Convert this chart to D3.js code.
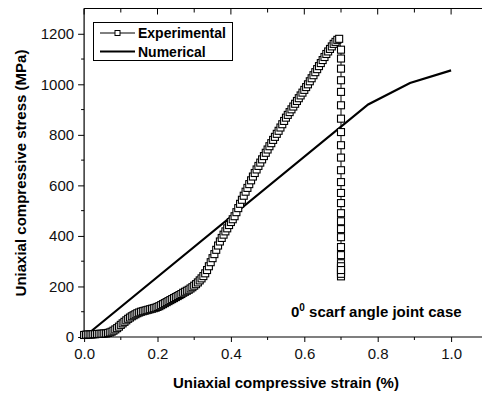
<!DOCTYPE html>
<html><head><meta charset="utf-8">
<script src="https://cdn.jsdelivr.net/npm/d3@7"></script>
<style>html,body{margin:0;padding:0;background:#fff;}svg{display:block;font-family:Arial,"Liberation Sans",sans-serif;}</style>
</head><body><svg id="c" width="482" height="396"></svg>
<script>
// Experimental: rising part (strain %, stress MPa)
const expStrain = [
 0.000,0.005,0.010,0.015,0.020,0.025,0.030,0.035,0.040,0.045,0.050,0.055,0.060,0.065,0.070,0.075,0.080,0.085,0.090,0.095,
 0.100,0.105,0.110,0.115,0.120,0.125,0.130,0.135,0.140,0.145,0.150,0.155,0.160,0.165,0.170,0.175,0.180,0.185,0.190,0.195,
 0.200,0.205,0.210,0.215,0.220,0.225,0.230,0.235,0.240,0.245,0.250,0.255,0.260,0.265,0.270,0.275,0.280,0.285,0.290,0.295,
 0.300,0.305,0.310,0.315,0.320,0.325,0.330,0.335,0.340,0.345,0.350,0.355,0.360,0.365,0.370,0.375,0.380,0.385,0.390,0.395,
 0.400,0.405,0.410,0.415,0.420,0.425,0.430,0.435,0.440,0.445,0.450,0.455,0.460,0.465,0.470,0.475,0.480,0.485,0.490,0.495,
 0.500,0.505,0.510,0.515,0.520,0.525,0.530,0.535,0.540,0.545,0.550,0.555,0.560,0.565,0.570,0.575,0.580,0.585,0.590,0.595,
 0.600,0.605,0.610,0.615,0.620,0.625,0.630,0.635,0.640,0.645,0.650,0.655,0.660,0.665,0.670,0.675,0.680,0.685,0.690,0.695];
const expStress = [
 8,9,10,10,10,11,11,12,12,13,13,14,14,16,18,21,25,30,35,41,
 48,54,60,66,72,77,82,86,90,94,97,100,102,104,106,108,110,112,114,116,
 119,122,126,130,134,138,142,146,150,154,158,162,166,170,175,179,183,187,192,197,
 203,209,216,224,232,241,252,265,280,296,312,328,345,362,378,392,405,418,430,443,
 455,466,478,494,510,527,543,559,575,590,605,620,635,649,663,677,690,703,716,729,
 742,755,767,780,792,804,816,829,842,855,868,879,890,901,912,923,934,945,956,967,
 978,989,1000,1012,1024,1036,1048,1060,1072,1084,1096,1108,1120,1130,1140,1150,1160,1168,1176,1180];
// Experimental: failure drop at constant strain
const dropStrain = 0.70;
const dropStress = [1137,1102,1062,1016,970,917,864,811,759,710,660,613,570,530,490,458,427,395,356,324,292,273,257,240,250,280,265];
// Numerical
const numStrain = [0.0,0.774,0.888,1.0];
const numStress = [0,920,1005,1055];
// Ticks
const xTicks = [0.0,0.2,0.4,0.6,0.8,1.0];
const xMinorTicks = [0.1,0.3,0.5,0.7,0.9];
const yTicks = [0,200,400,600,800,1000,1200];
const yMinorTicks = [100,300,500,700,900,1100];

const svg = d3.select("#c");
const x = d3.scaleLinear().domain([0,1]).range([84.1,451.1]);
const y = d3.scaleLinear().domain([0,1300]).range([337,8.5]);
const xMax = 1.09;

const expPts = expStrain.map((s,i)=>[s,expStress[i]]).concat(dropStress.map(v=>[dropStrain,v]));
const numPts = numStrain.map((s,i)=>[s,numStress[i]]);

const g = svg.append("g");
const right = x(xMax);
g.append("line").attr("x1",x(0)).attr("x2",right).attr("y1",y(0)).attr("y2",y(0)).attr("stroke","#000").attr("stroke-width",1.2);
g.append("line").attr("x1",x(0)).attr("x2",right).attr("y1",y(1300)).attr("y2",y(1300)).attr("stroke","#000").attr("stroke-width",1.2);
g.append("line").attr("x1",x(0)).attr("x2",x(0)).attr("y1",y(0)).attr("y2",y(1300)).attr("stroke","#000").attr("stroke-width",1.2);

const xAxis = d3.axisBottom(x).tickValues(xTicks).tickFormat(d3.format(".1f")).tickSize(5).tickPadding(6);
const xa = g.append("g").attr("transform",`translate(0,${y(0)})`).call(xAxis);
xa.select(".domain").remove();
xa.selectAll("text").attr("font-size",15).attr("font-family","Arial, Liberation Sans, sans-serif").attr("fill","#111");
g.selectAll(".xm").data(xMinorTicks).enter().append("line").attr("x1",d=>x(d)).attr("x2",d=>x(d)).attr("y1",y(0)).attr("y2",y(0)+3).attr("stroke","#000");
g.selectAll(".xt").data(xTicks).enter().append("line").attr("x1",d=>x(d)).attr("x2",d=>x(d)).attr("y1",y(1300)).attr("y2",y(1300)+6).attr("stroke","#000");
g.selectAll(".xtm").data(xMinorTicks).enter().append("line").attr("x1",d=>x(d)).attr("x2",d=>x(d)).attr("y1",y(1300)).attr("y2",y(1300)+4).attr("stroke","#000");

const yAxis = d3.axisLeft(y).tickValues(yTicks).tickFormat(d3.format("d")).tickSize(6).tickPadding(4);
const ya = g.append("g").attr("transform",`translate(${x(0)},0)`).call(yAxis);
ya.select(".domain").remove();
ya.selectAll("text").attr("font-size",15).attr("font-family","Arial, Liberation Sans, sans-serif").attr("fill","#111");
g.selectAll(".ym").data(yMinorTicks).enter().append("line").attr("x1",x(0)-3).attr("x2",x(0)).attr("y1",d=>y(d)).attr("y2",d=>y(d)).attr("stroke","#000");

const line = d3.line().x(d=>x(d[0])).y(d=>y(d[1]));
g.append("path").datum(numPts).attr("d",line).attr("fill","none").attr("stroke","#000").attr("stroke-width",2.2);

g.append("path").datum(expPts).attr("d",line).attr("fill","none").attr("stroke","#000").attr("stroke-width",1);
const ms = 7;
g.selectAll(".em").data(expPts).enter().append("rect")
  .attr("x",d=>x(d[0])-ms/2).attr("y",d=>y(d[1])-ms/2).attr("width",ms).attr("height",ms)
  .attr("fill","#fff").attr("stroke","#000").attr("stroke-width",1.1);

const lg = svg.append("g");
lg.append("rect").attr("x",93.5).attr("y",22.5).attr("width",139).attr("height",38).attr("fill","#fff").attr("stroke","#000").attr("stroke-width",1);
lg.append("line").attr("x1",100).attr("x2",135).attr("y1",33).attr("y2",33).attr("stroke","#000").attr("stroke-width",1);
lg.append("rect").attr("x",115).attr("y",30.5).attr("width",5).attr("height",5).attr("fill","#fff").attr("stroke","#000");
lg.append("line").attr("x1",100).attr("x2",135).attr("y1",51.5).attr("y2",51.5).attr("stroke","#000").attr("stroke-width",2.2);
lg.append("text").attr("x",138).attr("y",38).attr("font-size",14).attr("font-weight","bold").text("Experimental");
lg.append("text").attr("x",138).attr("y",56.5).attr("font-size",14).attr("font-weight","bold").text("Numerical");

svg.append("text").attr("x",286).attr("y",388).attr("text-anchor","middle").attr("font-size",15).attr("font-weight","bold").text("Uniaxial compressive strain (%)");
svg.append("text").attr("transform","translate(26,173) rotate(-90)").attr("text-anchor","middle").attr("font-size",15).attr("font-weight","bold").text("Uniaxial compressive stress (MPa)");

const an = svg.append("text").attr("x",291).attr("y",317).attr("font-size",15).attr("font-weight","bold");
an.append("tspan").text("0");
an.append("tspan").attr("dy",-6).attr("font-size",10).text("0");
an.append("tspan").attr("dy",6).text(" scarf angle joint case");
</script></body></html>
